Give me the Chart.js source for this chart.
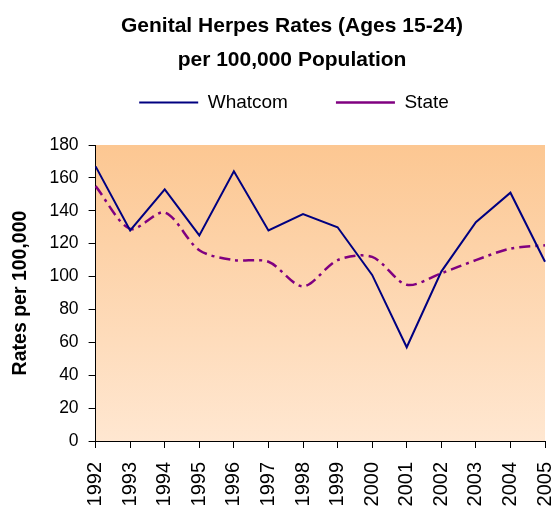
<!DOCTYPE html>
<html>
<head>
<meta charset="utf-8">
<script src="https://cdn.jsdelivr.net/npm/chart.js@4.4.1/dist/chart.umd.min.js"></script>
<style>
  html, body { margin: 0; padding: 0; background: #fff; }
  #wrap { width: 553px; height: 508px; }
</style>
</head>
<body>
<div id="wrap"><canvas id="herpes-chart"></canvas></div>
<script>
const years = ['1992', '1993', '1994', '1995', '1996', '1997', '1998', '1999', '2000', '2001', '2002', '2003', '2004', '2005'];
const whatcomRates = [167, 128, 153, 125, 164, 128, 138, 130, 101, 57, 103, 133, 151, 109];
const stateRates = [155, 129, 139, 116, 110, 109, 94, 110, 112, 95, 102, 110, 117, 119];
const yTicks = [0, 20, 40, 60, 80, 100, 120, 140, 160, 180];

const sans = "'Liberation Sans', Arial, sans-serif";

// fundo em degradê só na área do gráfico
const plotBackground = {
    id: 'plotBackground',
    beforeDraw(chart) {
        const {ctx, chartArea: a} = chart;
        const g = ctx.createLinearGradient(0, a.top, 0, a.bottom);
        g.addColorStop(0, '#fcc792');
        g.addColorStop(1, '#ffe7d1');
        ctx.save();
        ctx.fillStyle = g;
        ctx.fillRect(a.left, a.top, a.right - a.left, a.bottom - a.top);
        ctx.restore();
    }
};

// reposiciona título e legenda como no original
const shiftHeader = {
    id: 'shiftHeader',
    afterLayout(chart) {
        if (chart.titleBlock) {
            chart.titleBlock.left = 31;
            chart.titleBlock.right = 553;
        }
        if (chart.legend) {
            chart.legend.left = 35;
            chart.legend.right = 553;
            chart.legend.top = 45;
        }
    }
};

const ctx = document.getElementById('herpes-chart').getContext('2d');
new Chart(ctx, {
    type: 'line',
    data: {
        labels: years,
        datasets: [{
            label: 'Whatcom',
            data: whatcomRates,
            borderColor: '#000080',
            backgroundColor: '#000080',
            borderWidth: 2,
            pointRadius: 0,
            tension: 0
        }, {
            label: 'State',
            data: stateRates,
            borderColor: '#800080',
            backgroundColor: '#800080',
            borderWidth: 2.5,
            borderDash: [11, 5, 3, 5],
            pointRadius: 0,
            tension: 0.3
        }]
    },
    options: {
        responsive: true,
        maintainAspectRatio: false,
        animation: false,
        layout: { padding: 0 },
        plugins: {
            title: {
                display: true,
                text: ['Genital Herpes Rates (Ages 15-24)', 'per 100,000 Population'],
                color: '#000',
                font: { family: sans, size: 21, weight: 'bold', lineHeight: '34px' },
                padding: { top: 9, bottom: -9 }
            },
            legend: {
                display: true,
                position: 'top',
                labels: {
                    usePointStyle: true,
                    pointStyle: 'line',
                    pointStyleWidth: 59,
                    color: '#000',
                    font: { family: sans, size: 19 },
                    padding: 48
                }
            },
            tooltip: { enabled: false }
        },
        scales: {
            x: {
                type: 'category',
                offset: false,
                afterFit(scale) {
                    scale.paddingLeft = 0;
                    scale.paddingRight = 8;
                    scale.height = 67;
                },
                grid: { display: true, drawOnChartArea: false, drawTicks: true, tickLength: 7, color: '#000' },
                border: { display: true, color: '#000', width: 1 },
                ticks: {
                    color: '#000',
                    font: { family: sans, size: 20 },
                    minRotation: 90,
                    maxRotation: 90,
                    autoSkip: false,
                    padding: 14
                }
            },
            y: {
                min: 0,
                max: 180,
                afterBuildTicks(axis) {
                    axis.ticks = yTicks.map(v => ({ value: v }));
                },
                grid: { display: true, drawOnChartArea: false, drawTicks: true, tickLength: 7, color: '#000' },
                border: { display: true, color: '#000', width: 1 },
                ticks: {
                    color: '#000',
                    font: { family: sans, size: 17.5 },
                    padding: 10
                },
                title: {
                    display: true,
                    text: 'Rates per 100,000',
                    color: '#000',
                    font: { family: sans, size: 19.5, weight: 'bold' },
                    padding: { top: 9, bottom: 7 }
                }
            }
        }
    },
    plugins: [plotBackground, shiftHeader]
});
</script>
</body>
</html>
